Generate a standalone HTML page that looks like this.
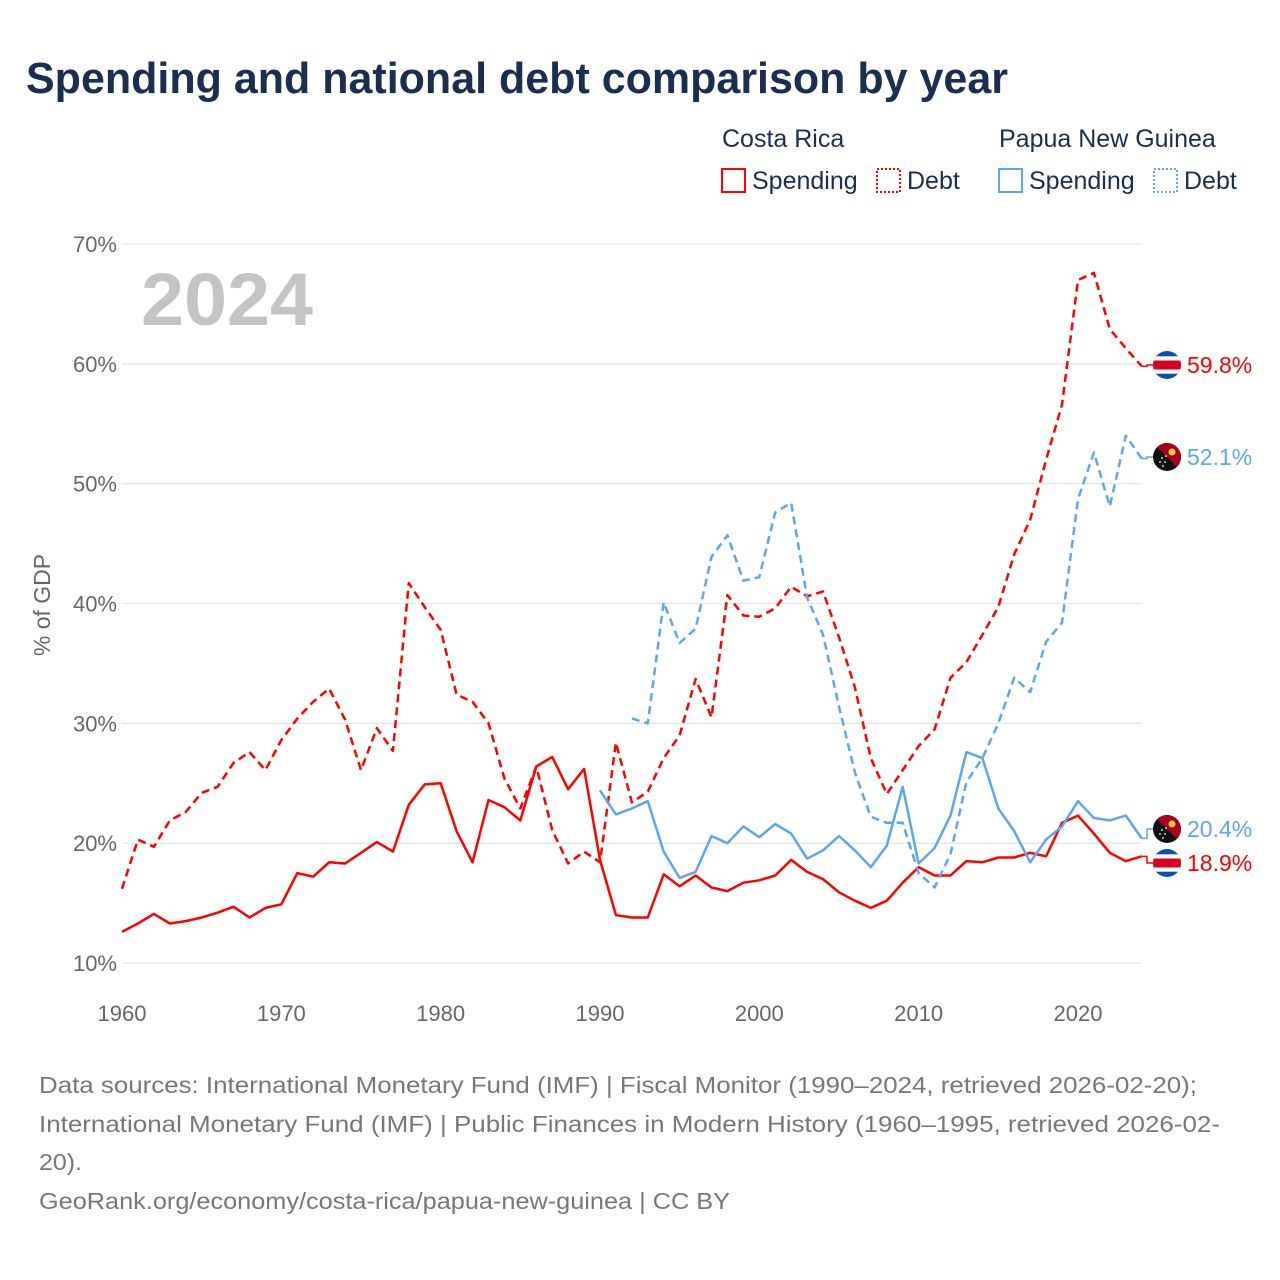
<!DOCTYPE html>
<html><head><meta charset="utf-8">
<style>
html,body{margin:0;padding:0;background:#fff;}
body{width:1280px;height:1280px;position:relative;overflow:hidden;font-family:"Liberation Sans",sans-serif;}
</style></head>
<body>
<svg id="chart" width="1280" height="1280" xmlns="http://www.w3.org/2000/svg" style="position:absolute;left:0;top:0">
<text x="26" y="93" font-size="44" font-weight="bold" fill="#1a2e4f" font-family="Liberation Sans, sans-serif" textLength="982" lengthAdjust="spacingAndGlyphs">Spending and national debt comparison by year</text>
<g font-family="Liberation Sans, sans-serif" fill="#1a2e4f" font-size="25">
<text x="722" y="147">Costa Rica</text>
<text x="999" y="147">Papua New Guinea</text>
<g><rect x="722" y="169" width="23" height="23" fill="none" stroke="#ff0000" stroke-width="2"/><text x="752" y="189">Spending</text></g>
<g><rect x="877" y="169" width="23" height="23" fill="none" stroke="#ff0000" stroke-width="2" stroke-dasharray="2,2"/><text x="907" y="189">Debt</text></g>
<g><rect x="999" y="169" width="23" height="23" fill="none" stroke="#5ea6ea" stroke-width="2"/><text x="1029" y="189">Spending</text></g>
<g><rect x="1154" y="169" width="23" height="23" fill="none" stroke="#5ea6ea" stroke-width="2" stroke-dasharray="2,2"/><text x="1184" y="189">Debt</text></g>
</g>
<text x="141" y="325" font-size="74" font-weight="bold" fill="#c4c4c4" font-family="Liberation Sans, sans-serif" textLength="172" lengthAdjust="spacingAndGlyphs">2024</text>
<text transform="translate(50,605) rotate(-90)" text-anchor="middle" font-size="23" fill="#666" font-family="Liberation Sans, sans-serif">% of GDP</text>
<g id="grid"></g><g id="series"></g><g id="ends"></g>
<g font-size="23.5" fill="#777" font-family="Liberation Sans, sans-serif">
<text x="39" y="1093" textLength="1158" lengthAdjust="spacingAndGlyphs">Data sources: International Monetary Fund (IMF) | Fiscal Monitor (1990–2024, retrieved 2026-02-20);</text>
<text x="39" y="1132" textLength="1181" lengthAdjust="spacingAndGlyphs">International Monetary Fund (IMF) | Public Finances in Modern History (1960–1995, retrieved 2026-02-</text>
<text x="39" y="1170" textLength="43" lengthAdjust="spacingAndGlyphs">20).</text>
<text x="39" y="1209" textLength="691" lengthAdjust="spacingAndGlyphs">GeoRank.org/economy/costa-rica/papua-new-guinea | CC BY</text>
</g>
</svg>
<script>
const crSpending = [12.6,13.3,14.1,13.3,13.5,13.8,14.2,14.7,13.8,14.6,14.9,17.5,17.2,18.4,18.3,19.2,20.1,19.3,23.2,24.9,25.0,21.0,18.4,23.6,23.0,21.9,26.4,27.2,24.5,26.2,18.6,14.0,13.8,13.8,17.4,16.4,17.3,16.3,16.0,16.7,16.9,17.3,18.6,17.6,17.0,15.9,15.2,14.6,15.2,16.7,18.0,17.3,17.3,18.5,18.4,18.8,18.8,19.2,18.9,21.7,22.3,20.8,19.2,18.5,18.9];
const crDebt = [16.2,20.3,19.7,21.9,22.6,24.2,24.7,26.7,27.6,26.1,28.6,30.4,31.8,32.9,30.3,26.1,29.6,27.7,41.7,39.7,37.8,32.4,31.8,30.0,25.4,22.9,26.4,21.1,18.3,19.3,18.4,28.4,23.4,24.3,27.1,29.0,33.7,30.5,40.7,39.0,38.9,39.6,41.4,40.6,41.0,37.2,33.0,27.1,24.1,26.1,28.1,29.5,33.8,35.1,37.4,39.7,44.1,47.0,52.0,56.6,67.0,67.6,62.9,61.3,59.8];
const pngSpendStart = 1990;
const pngSpending = [24.4,22.4,22.9,23.5,19.3,17.1,17.6,20.6,20.0,21.4,20.5,21.6,20.8,18.7,19.4,20.6,19.4,18.0,19.8,24.7,18.3,19.6,22.3,27.6,27.1,22.9,21.0,18.4,20.3,21.4,23.5,22.1,21.9,22.3,20.4];
const pngDebtStart = 1992;
const pngDebt = [30.4,30.0,40.1,36.7,37.9,43.9,45.7,41.9,42.2,47.6,48.4,40.5,37.4,31.4,25.9,22.2,21.7,21.7,17.5,16.3,19.1,25.1,27.1,30.0,33.8,32.6,36.8,38.4,48.7,52.6,48.1,54.0,52.1];
const yTicks = [10,20,30,40,50,60,70];
const xTicks = [1960,1970,1980,1990,2000,2010,2020];

const NS="http://www.w3.org/2000/svg";
const X0=122,X1=1141.7,Y10=963,Y70=244;
function xs(yr){return X0+(yr-1960)*(X1-X0)/64;}
function ys(v){return Y10-(v-10)*(Y10-Y70)/60;}
function mk(tag,attrs,parent){const e=document.createElementNS(NS,tag);for(const k in attrs)e.setAttribute(k,attrs[k]);parent.appendChild(e);return e;}
const grid=document.getElementById('grid');
yTicks.forEach(t=>{
  const l=mk('line',{x1:X0,x2:X1,y1:ys(t),y2:ys(t),stroke:'#e6e6e6','stroke-width':1.3},grid);
  
  
  const tx=mk('text',{x:117,y:ys(t)+8,'text-anchor':'end','font-size':22,fill:'#666','font-family':'Liberation Sans, sans-serif'},grid);
  tx.textContent=t+'%';
  
  
});
xTicks.forEach(t=>{
  const tx=mk('text',{x:xs(t),y:1021,'text-anchor':'middle','font-size':22,fill:'#666','font-family':'Liberation Sans, sans-serif'},grid);
  tx.textContent=t;
  
  
});
const ser=document.getElementById('series');
function line(arr,start,color,dash,name){
  const d=arr.map((v,i)=>(i?'L':'M')+xs(start+i).toFixed(1)+','+ys(v).toFixed(1)).join(' ');
  const p=mk('path',{d:d,fill:'none',stroke:color,'stroke-width':2.5,'stroke-linejoin':'round'},ser);
  if(dash)p.setAttribute('stroke-dasharray','8,5');
  
  
}
line(crDebt,1960,'#ff0000',true,'costa-rica-debt-line');
line(crSpending,1960,'#ff0000',false,'costa-rica-spending-line');
line(pngDebt,pngDebtStart,'#5ea6ea',true,'png-debt-line');
line(pngSpending,pngSpendStart,'#5ea6ea',false,'png-spending-line');

const ends=document.getElementById('ends');
function endLabel(v,labelY,color,country,name){
  const x=xs(2024),y=ys(v);
  mk('path',{d:'M'+x+','+y+' L1147,'+y+' L1147,'+labelY+' L1153,'+labelY,fill:'none',stroke:color,'stroke-width':1.5},ends);
  const g=mk('g',{},ends);
  
  
  const cx=1167,cy=labelY,r=14;
  const cid='c'+name;
  const cp=mk('clipPath',{id:cid},g);mk('circle',{cx:cx,cy:cy,r:r},cp);
  const f=mk('g',{'clip-path':'url(#'+cid+')'},g);
  if(country==='cr'){
    mk('rect',{x:cx-r,y:cy-r,width:2*r,height:2*r,fill:'#0a4fa8'},f);
    mk('rect',{x:cx-r,y:cy-r*0.62,width:2*r,height:r*1.24,fill:'#fff'},f);
    mk('rect',{x:cx-r,y:cy-r*0.32,width:2*r,height:r*0.64,fill:'#d90025'},f);
  } else {
    mk('rect',{x:cx-r,y:cy-r,width:2*r,height:2*r,fill:'#111'},f);
    mk('polygon',{points:(cx-r)+','+(cy-r)+' '+(cx+r)+','+(cy-r)+' '+(cx+r)+','+(cy+r),fill:'#a8001c'},f);
    mk('circle',{cx:cx+5,cy:cy-5,r:3.5,fill:'#f6c542'},f);
    [[-5,1],[-2,5],[-7,5],[-4,9],[-1,-1]].forEach(s=>mk('circle',{cx:cx+s[0],cy:cy+s[1],r:0.9,fill:'#fff'},f));
  }
  const t=mk('text',{x:1187,y:labelY+8,'font-size':23,fill:color,'font-family':'Liberation Sans, sans-serif'},ends);
  t.textContent=v.toFixed(1)+'%';
  
  
}
endLabel(crDebt[crDebt.length-1],365,'#ff0000','cr','cr-debt-end');
endLabel(pngDebt[pngDebt.length-1],457,'#5ea6ea','png','png-debt-end');
endLabel(pngSpending[pngSpending.length-1],829,'#5ea6ea','png','png-spending-end');
endLabel(crSpending[crSpending.length-1],863,'#ff0000','cr','cr-spending-end');
</script>
</body></html>
